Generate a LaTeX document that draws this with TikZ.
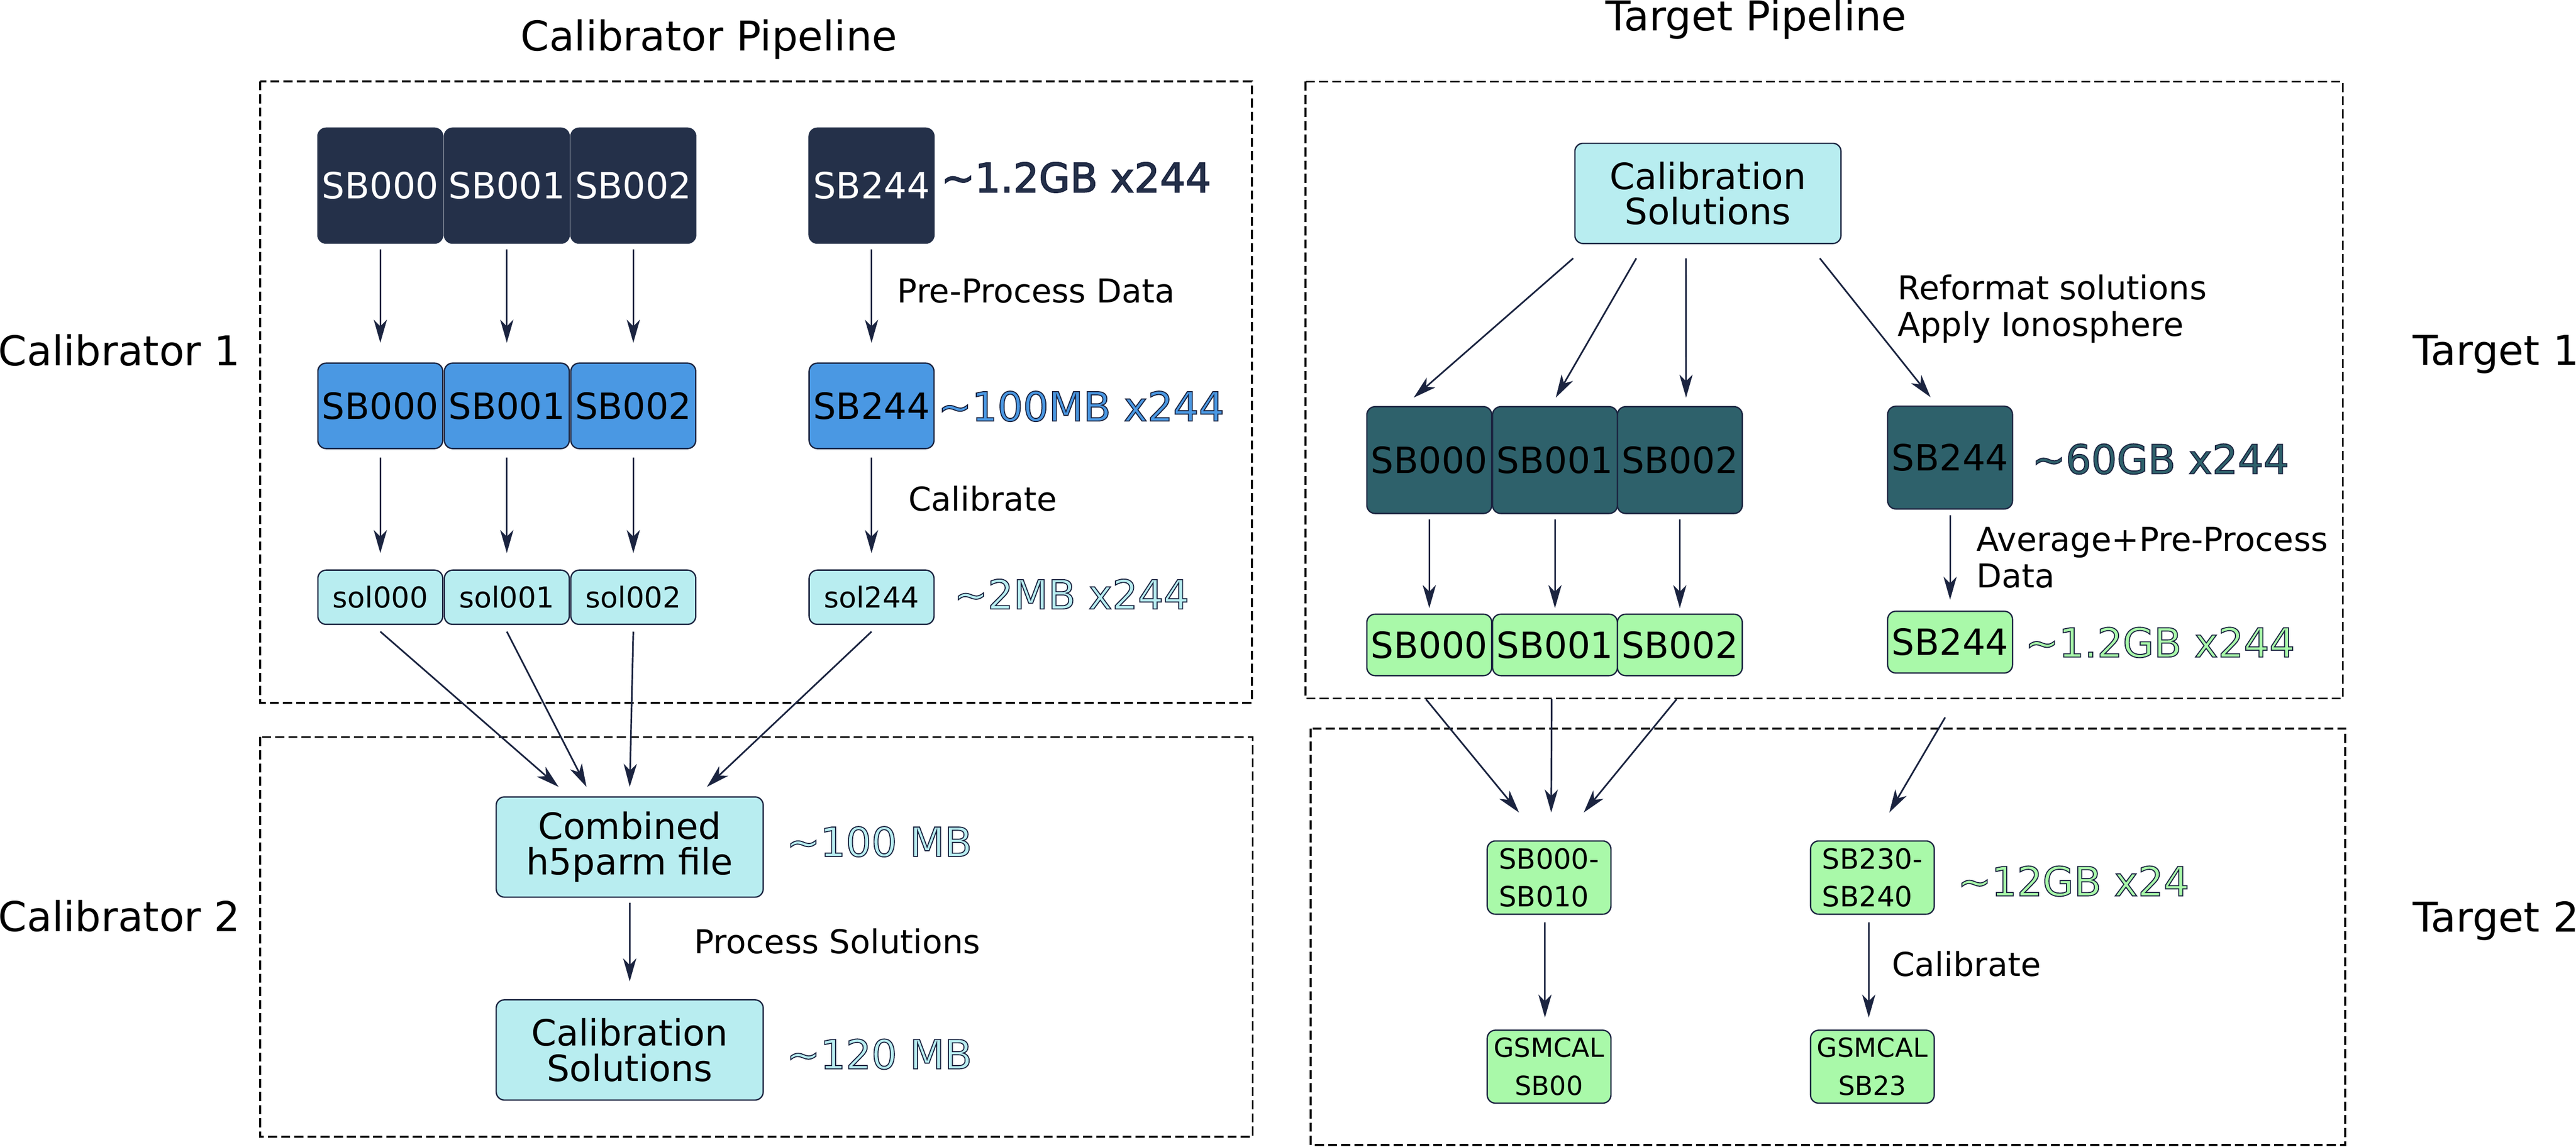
\documentclass[tikz,border=0pt]{standalone}
\usepackage{fontspec}
\setmainfont{DejaVu Sans}
\usetikzlibrary{arrows.meta,calc}
\definecolor{navy}{HTML}{243049}
\definecolor{sbblue}{HTML}{4A98E3}
\definecolor{solcyan}{HTML}{B8EDF0}
\definecolor{tealbox}{HTML}{2E616B}
\definecolor{greenbox}{HTML}{A9F9A9}
\definecolor{edge}{HTML}{1B2440}
\newcommand{\outl}[2]{{\color{#1}\special{pdf:literal direct 0.106 0.141 0.251 RG 0.6 w 2 Tr}#2\special{pdf:literal direct 0 Tr}}}
\begin{document}
\begin{tikzpicture}[x=1pt,y=-1pt,
 box/.style={draw=edge,line width=0.8pt,rounded corners=5pt,inner sep=0pt,align=center},
 fA/.style={font=\fontsize{22}{21.5}\selectfont},
 fS/.style={font=\fontsize{17.5}{18}\selectfont},
 fL/.style={font=\fontsize{24.5}{25}\selectfont},
 fN/.style={font=\fontsize{20}{22.2}\selectfont},
 fT/.style={font=\fontsize{25}{25}\selectfont},
 fX/.style={font=\fontsize{17}{22.8}\selectfont},
 fG/.style={font=\fontsize{16}{23.3}\selectfont},
 navybox/.style={box,fA,fill=navy,draw=navy,text=white,minimum width=76pt,minimum height=70pt},
 bluebox/.style={box,fA,fill=sbblue,minimum width=76pt,minimum height=52pt},
 solbox/.style={box,fS,fill=solcyan,minimum width=76pt,minimum height=33pt},
 bigcyan/.style={box,fA,fill=solcyan,minimum width=162.5pt,minimum height=61pt},
 tealb/.style={box,fA,fill=tealbox,minimum width=76pt},
 greenb/.style={box,fA,fill=greenbox,minimum width=76pt},
 smallg/.style={box,fill=greenbox,minimum width=75.3pt,minimum height=44.6pt},
 lbl/.style={inner sep=0pt,anchor=west},
 arr/.style={draw=edge,line width=1pt,-{Stealth[length=14pt,width=8pt,inset=4pt]}},
 region/.style={draw=black,line width=1.2pt,dash pattern=on 5.5pt off 2.5pt}]

\useasboundingbox (0,0) rectangle (1568,698);

% ---------- region frames ----------
\draw[region] (158.4,49.5) rectangle (762,427.7);
\draw[region] (158.4,448.6) rectangle (762.5,691.8);
\draw[region] (794.6,49.7) rectangle (1426.1,425.1);
\draw[region] (797.8,443.3) rectangle (1427.6,696.8);

% ---------- titles ----------
\node[fT,inner sep=0pt,anchor=base] (tcalp) at (431.5,31) {Calibrator Pipeline};
\node[fT,inner sep=0pt,anchor=base] (ttgtp) at (1069,18.8) {Target Pipeline};
\node[fT,inner sep=0pt,anchor=base west] (lc1) at (-1.2,222.4) {Calibrator 1};
\node[fT,inner sep=0pt,anchor=base west] (lc2) at (-1.2,566.8) {Calibrator 2};
\node[fT,inner sep=0pt,anchor=base west] (lt1) at (1468.5,222.2) {Target 1};
\node[fT,inner sep=0pt,anchor=base west] (lt2) at (1468.5,567) {Target 2};

% ---------- Calibrator 1 ----------
\node[navybox] (c1a) at (231.5,113) {SB000};
\node[navybox] (c1b) at (308.5,113) {SB001};
\node[navybox] (c1c) at (385.5,113) {SB002};
\node[navybox] (c1d) at (530.5,113) {SB244};

\node[bluebox] (c2a) at (231.5,247) {SB000};
\node[bluebox] (c2b) at (308.5,247) {SB001};
\node[bluebox] (c2c) at (385.5,247) {SB002};
\node[bluebox] (c2d) at (530.5,247) {SB244};

\node[solbox] (s1) at (231.5,363.5) {sol000};
\node[solbox] (s2) at (308.5,363.5) {sol001};
\node[solbox] (s3) at (385.5,363.5) {sol002};
\node[solbox] (s4) at (530.5,363.5) {sol244};

\node[lbl,fL] (z1) at (572.7,108) {\outl{navy}{\textasciitilde1.2GB x244}};
\node[lbl,fL] (z2) at (570.8,247.3) {\outl{sbblue}{\textasciitilde100MB x244}};
\node[lbl,fL] (z3) at (580.5,361.5) {\outl{solcyan}{\textasciitilde2MB x244}};
\node[lbl,fN] (n1) at (546,177) {Pre-Process Data};
\node[lbl,fN] (n2) at (552.7,303.5) {Calibrate};

\foreach \a/\b in {c1a/c2a,c1b/c2b,c1c/c2c,c1d/c2d}
  \draw[arr,shorten <=3.5pt,shorten >=12pt] (\a.south) -- (\b.north);
\foreach \a/\b in {c2a/s1,c2b/s2,c2c/s3,c2d/s4}
  \draw[arr,shorten <=5pt,shorten >=10pt] (\a.south) -- (\b.north);

% ---------- Calibrator 2 ----------
\node[bigcyan] (cb1) at (383.3,515.5) {Combined\\h5parm file};
\node[bigcyan] (cb2) at (383.3,639) {Calibration\\Solutions};
\node[lbl,fL] (z4) at (478.5,512.3) {\outl{solcyan}{\textasciitilde100 MB}};
\node[lbl,fL] (z5) at (478.5,641.6) {\outl{solcyan}{\textasciitilde120 MB}};
\node[lbl,fN] (n3) at (422.4,572.8) {Process Solutions};

\draw[arr] ($(s1.south)+(0,4)$) -- ($(cb1.north)+(-43.3,-5.7)$);
\draw[arr] ($(s2.south)+(0,4)$) -- ($(cb1.north)+(-26.3,-5.7)$);
\draw[arr] ($(s3.south)+(0,4)$) -- ($(cb1.north)+(0,-5.7)$);
\draw[arr] ($(s4.south)+(0,4)$) -- ($(cb1.north)+(47,-5.7)$);
\draw[arr,line width=0.8pt,shorten <=3pt,shorten >=10.8pt] (cb1.south) -- (cb2.north);

% ---------- Target 1 ----------
\node[bigcyan,minimum width=162pt] (tcal) at (1039.6,117.7) {Calibration\\Solutions};

\node[tealb,minimum height=65pt] (t1a) at (870,280) {SB000};
\node[tealb,minimum height=65pt] (t1b) at (946.5,280) {SB001};
\node[tealb,minimum height=65pt] (t1c) at (1022.5,280) {SB002};
\node[tealb,minimum height=62.5pt] (t1d) at (1187,278.5) {SB244};

\node[greenb,minimum height=37.4pt] (g1a) at (870,392.5) {SB000};
\node[greenb,minimum height=37.4pt] (g1b) at (946.5,392.5) {SB001};
\node[greenb,minimum height=37.4pt] (g1c) at (1022.5,392.5) {SB002};
\node[greenb,minimum height=37.6pt] (g1d) at (1187,390.8) {SB244};

\node[lbl,fN,align=left] (n4) at (1155,188) {Reformat solutions\\Apply Ionosphere};
\node[lbl,fN,align=left] (n5) at (1203,339.5) {Average+Pre-Process\\Data};
\node[lbl,fL] (z6) at (1236.6,279.4) {\outl{tealbox}{\textasciitilde60GB x244}};
\node[lbl,fL] (z7) at (1232.4,391) {\outl{greenbox}{\textasciitilde1.2GB x244}};

\draw[arr] ($(tcal.south)+(-82,8.6)$) -- ($(t1a.north)+(-9.5,-5.1)$);
\draw[arr] ($(tcal.south)+(-43.6,8.6)$) -- ($(t1b.north)+(0.5,-5.1)$);
\draw[arr] ($(tcal.south)+(-13.4,8.6)$) -- ($(t1c.north)+(3.8,-5.1)$);
\draw[arr] ($(tcal.south)+(68.1,8.6)$) -- ($(t1d.north)+(-11.9,-5.1)$);

\foreach \a/\b in {t1a/g1a,t1b/g1b,t1c/g1c}
  \draw[arr,shorten <=3.3pt,shorten >=3.3pt] (\a.south) -- (\b.north);
\draw[arr,shorten <=3.4pt,shorten >=6.6pt] (t1d.south) -- (g1d.north);

% ---------- Target 2 ----------
\node[smallg,fX,align=left] (t2a) at (942.9,534.1) {SB000-\\SB010};
\node[smallg,fX,align=left] (t2b) at (1139.7,534.1) {SB230-\\SB240};
\node[smallg,fG,align=center,minimum height=44.4pt] (t2c) at (942.9,649.2) {GSMCAL\\SB00};
\node[smallg,fG,align=center,minimum height=44.4pt] (t2d) at (1139.7,649.2) {GSMCAL\\SB23};

\node[lbl,fN] (n6) at (1151.4,586.7) {Calibrate};
\node[lbl,fL] (z8) at (1191.4,536.3) {\outl{greenbox}{\textasciitilde12GB x24}};

\draw[arr] ($(g1a.south)+(-2,14)$) -- ($(t2a.north)+(-18.3,-16.9)$);
\draw[arr] ($(g1b.south)+(-2,14)$) -- ($(t2a.north)+(1.3,-16.9)$);
\draw[arr] ($(g1c.south)+(-2,14)$) -- ($(t2a.north)+(21.1,-16.9)$);
\draw[arr] ($(g1d.south)+(-3,26.6)$) -- ($(t2b.north)+(10.3,-16.9)$);

\draw[arr,shorten <=4.4pt,shorten >=7.3pt] ($(t2a.south)+(-2.5,0)$) -- ($(t2c.north)+(-2.5,0)$);
\draw[arr,shorten <=4.4pt,shorten >=7.3pt] ($(t2b.south)+(-2.2,0)$) -- ($(t2d.north)+(-2.2,0)$);
\end{tikzpicture}
\end{document}
